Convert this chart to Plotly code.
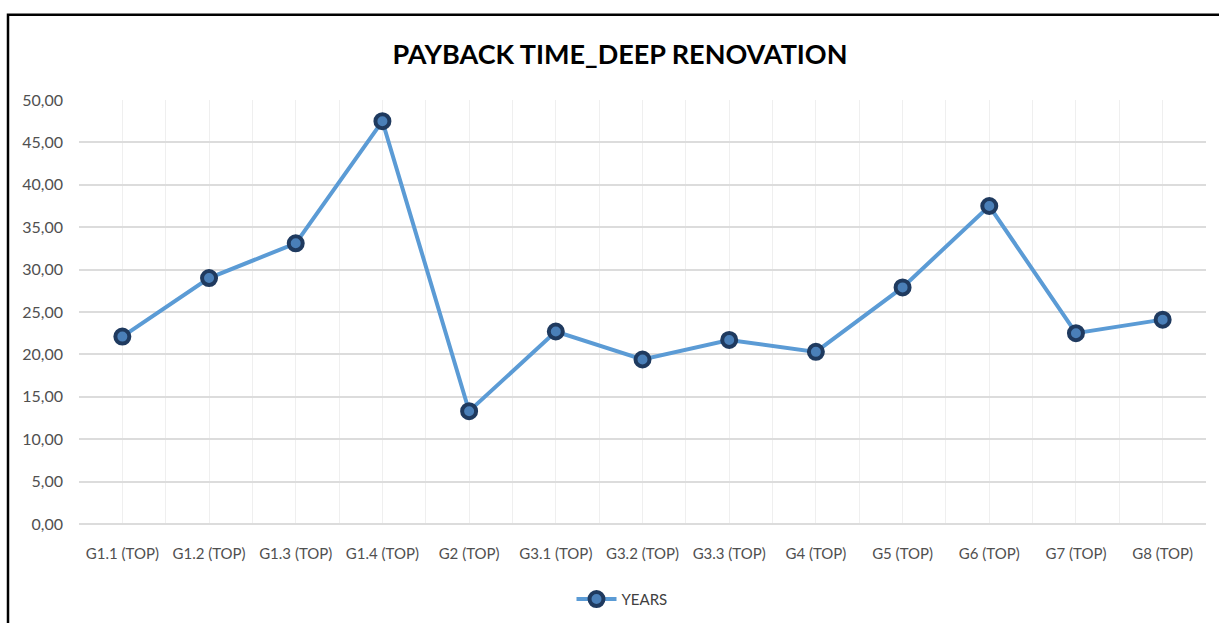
import plotly.graph_objects as go

categories = ["G1.1 (TOP)", "G1.2 (TOP)", "G1.3 (TOP)", "G1.4 (TOP)", "G2 (TOP)",
              "G3.1 (TOP)", "G3.2 (TOP)", "G3.3 (TOP)", "G4 (TOP)", "G5 (TOP)",
              "G6 (TOP)", "G7 (TOP)", "G8 (TOP)"]
years = [22.1, 29.0, 33.1, 47.5, 13.3, 22.7, 19.4, 21.7, 20.3, 27.9, 37.5, 22.5, 24.1]
y_ticks = [0, 5, 10, 15, 20, 25, 30, 35, 40, 45, 50]
y_tick_labels = [("%.2f" % v).replace(".", ",") for v in y_ticks]

W, H = 1219, 628
L, R, T, B = 79, 13, 100, 100
pw, ph = W - L - R, H - T - B

idx = list(range(len(categories)))

fig = go.Figure()
fig.add_trace(go.Scatter(
    x=idx, y=years, name="YEARS", mode="lines+markers",
    line=dict(color="#5b9bd5", width=4),
    marker=dict(size=14, color="#4a7fb8", line=dict(color="#1f3a5f", width=4)),
))

font = "Lato, 'Open Sans', sans-serif"

# chart box: left and top edges
fx = (8 - L) / pw
fy_top = 1 + (T - 14) / ph
fy_bot = -(H - T - ph) / ph
fx_right = (W - L) / pw
fig.add_shape(type="path", xref="paper", yref="paper",
              path=f"M {fx} {fy_bot} L {fx} {fy_top} L {fx_right} {fy_top}",
              line=dict(color="black", width=2.5))

fig.update_layout(
    width=W, height=H,
    margin=dict(l=L, r=R, t=T, b=B),
    paper_bgcolor="white", plot_bgcolor="white",
    title=dict(text="<b>PAYBACK TIME_DEEP RENOVATION</b>", x=620 / W, xanchor="center",
               y=1 - 55 / H, yanchor="middle", yref="container",
               font=dict(family=font, size=27, color="black")),
    showlegend=True,
    legend=dict(orientation="h", x=(622 - L) / pw, xanchor="center",
                y=(T + ph - 604) / ph, yanchor="middle",
                font=dict(family=font, size=15, color="#404040"),
                itemwidth=40),
    font=dict(family=font, color="#505050", size=15),
)
fig.update_xaxes(
    range=[-0.5, len(categories) - 0.5],
    tickmode="array", tickvals=idx, ticktext=categories,
    showgrid=True, gridcolor="#efefef", gridwidth=1,
    minor=dict(tickmode="array", tickvals=[i - 0.5 for i in range(len(categories) + 1)],
               showgrid=True, gridcolor="#efefef", gridwidth=1),
    zeroline=False, showline=False, ticks="",
    tickfont=dict(family=font, size=15, color="#505050"),
    ticklabelstandoff=19,
)
fig.update_yaxes(
    range=[0, 50], tickmode="array", tickvals=y_ticks, ticktext=y_tick_labels,
    showgrid=True, gridcolor="#dcdcdc", gridwidth=1.5,
    zeroline=True, zerolinecolor="#dcdcdc", zerolinewidth=1.5,
    showline=False, ticks="",
    tickfont=dict(family=font, size=16, color="#505050"),
    ticklabelstandoff=15,
)

fig.write_html("out.html")
